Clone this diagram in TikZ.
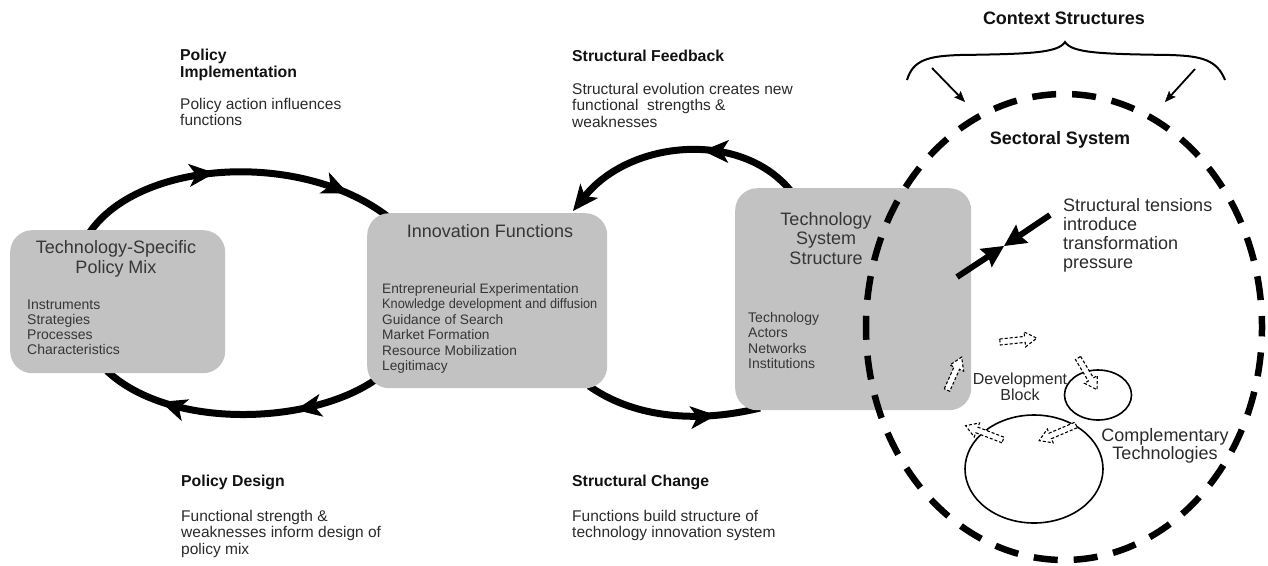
\documentclass[tikz,border=0pt]{standalone}
\usepackage{fontspec}
\setmainfont{Liberation Sans}
\usepackage{graphicx}
\usetikzlibrary{arrows.meta,decorations.markings}

\definecolor{boxgray}{HTML}{C2C2C2}
\definecolor{boxtext}{HTML}{363636}
\definecolor{labeltext}{HTML}{2A2A2A}
\definecolor{headtext}{HTML}{111111}

\newcommand{\fsz}[2]{\fontsize{#1}{#2}\selectfont}

% dashed hollow block arrow: tail x, tail y, direction (deg), length
\newcommand{\hollowarrow}[4]{%
  \begin{scope}[shift={(#1,#2)},rotate=#3]
    \draw[hollowblock] (0,-3) -- (#4-12,-3) -- (#4-12,-7.5) -- (#4,0)
      -- (#4-12,7.5) -- (#4-12,3) -- (0,3) -- cycle;
  \end{scope}}

\tikzset{
  bighead/.tip={Stealth[length=26pt,width=23pt,inset=7pt,line width=1pt]},
  pushhead/.tip={Stealth[length=22pt,width=22pt,inset=3pt,line width=1pt]},
  thinhead/.tip={Stealth[length=11pt,width=9pt,inset=2pt,line width=0.5pt]},
  panel/.style={fill=boxgray, rounded corners=22pt, inner sep=0pt, anchor=north west},
  txt/.style={inner sep=0pt, anchor=base west, text=labeltext},
  ctxt/.style={inner sep=0pt, anchor=base, text=labeltext},
  btxt/.style={inner sep=0pt, anchor=base west, text=boxtext},
  bctxt/.style={inner sep=0pt, anchor=base, text=boxtext},
  flow/.style={line width=7pt, postaction=decorate},
  twoheads/.style 2 args={decoration={markings,
      mark=at position #1 with {\arrow{bighead}},
      mark=at position #2 with {\arrow{bighead}}}},
  onehead/.style={decoration={markings,
      mark=at position #1 with {\arrow{bighead}}}},
  sector/.style={line width=6.5pt, dash pattern=on 24pt off 16pt, dash phase=13pt},
  ring/.style={line width=1.6pt},
  hollowblock/.style={line width=1.1pt, dash pattern=on 3pt off 2pt, fill=white},
  push/.style={line width=6pt, -{pushhead}},
  ctxarrow/.style={line width=1.8pt, -{thinhead}},
}

\begin{document}
\begin{tikzpicture}[x=1pt,y=-1pt]
\useasboundingbox (0,0) rectangle (1268,565);

% ---------- anchor points of the cycle arcs ----------
\coordinate (pmTop)    at (90,232);
\coordinate (pmBot)    at (107,371);
\coordinate (ifTopL)   at (387,216);
\coordinate (ifBotL)   at (375,380);
\coordinate (ifTopR)   at (573,211);
\coordinate (ifBotR)   at (589,386);
\coordinate (tsTop)    at (790,190);
\coordinate (tsBot)    at (760,408);

% ---------- policy loop ----------
\draw[flow, twoheads={0.44}{0.86}]
  (pmTop) .. controls (140,160) and (300,150) .. (ifTopL);
\draw[flow, twoheads={0.3}{0.78}]
  (ifBotL) .. controls (310,425) and (170,430) .. (pmBot);

% ---------- structure loop ----------
\draw[flow, onehead={0.4}, -{bighead}]
  (tsTop) .. controls (740,130) and (630,140) .. (ifTopR);
\draw[flow, onehead={0.75}]
  (ifBotR) .. controls (630,415) and (690,425) .. (tsBot);

% ---------- boxes ----------
\node[panel, minimum width=215pt, minimum height=143pt] (policy) at (10,230) {};
\node[panel, minimum width=240pt, minimum height=175pt] (functions) at (367,213) {};
\node[panel, minimum width=236pt, minimum height=222pt] (structure) at (735,188) {};

% box contents
\node[bctxt, font=\fsz{18}{20}] (policyTitle) at (116,253)
  {\begin{tabular}[t]{@{}c@{}}Technology-Specific\\Policy Mix\end{tabular}};
\node[btxt, font=\fsz{14}{15}] (policyItems) at (27,309)
  {\begin{tabular}[t]{@{}l@{}}Instruments\\Strategies\\Processes\\Characteristics\end{tabular}};

\node[bctxt, font=\fsz{18}{20}] (functionsTitle) at (490,237) {Innovation Functions};
\node[btxt, font=\fsz{13.7}{15.5}] (functionsItems) at (382,293)
  {\begin{tabular}[t]{@{}l@{}}Entrepreneurial Experimentation\\
   \scalebox{0.93}[1]{Knowledge development and diffusion}\\
   Guidance of Search\\Market Formation\\Resource Mobilization\\Legitimacy\end{tabular}};

\node[bctxt, font=\fsz{18}{19.5}] (structureTitle) at (826,225)
  {\begin{tabular}[t]{@{}c@{}}Technology\\System\\Structure\end{tabular}};
\node[btxt, font=\fsz{14}{15.6}] (structureItems) at (748,322)
  {\begin{tabular}[t]{@{}l@{}}Technology\\Actors\\Networks\\Institutions\end{tabular}};

% ---------- cycle labels ----------
\node[txt, text=headtext, font=\bfseries\fsz{15.8}{17}] (implHead) at (180,60)
  {\begin{tabular}[t]{@{}l@{}}Policy\\Implementation\end{tabular}};
\node[txt, font=\fsz{15.5}{16.7}] (implBody) at (180,109)
  {\begin{tabular}[t]{@{}l@{}}Policy action influences\\functions\end{tabular}};

\node[txt, text=headtext, font=\bfseries\fsz{15.8}{17}] (fbHead) at (572,61) {Structural Feedback};
\node[txt, font=\fsz{15.5}{16.7}] (fbBody) at (572,94)
  {\begin{tabular}[t]{@{}l@{}}Structural evolution creates new\\functional\ \ strengths \&\\weaknesses\end{tabular}};

\node[txt, text=headtext, font=\bfseries\fsz{15.8}{17}] (designHead) at (181,486) {Policy Design};
\node[txt, font=\fsz{15.5}{16.7}] (designBody) at (181,521)
  {\begin{tabular}[t]{@{}l@{}}Functional strength \&\\weaknesses inform design of\\policy mix\end{tabular}};

\node[txt, text=headtext, font=\bfseries\fsz{15.8}{17}] (changeHead) at (572,486) {Structural Change};
\node[txt, font=\fsz{15.5}{16.7}] (changeBody) at (572,521)
  {\begin{tabular}[t]{@{}l@{}}Functions build structure of\\technology innovation system\end{tabular}};

% ---------- sectoral system ----------
\draw[sector] (1064,327) ellipse [x radius=198pt, y radius=233pt];

\node[ctxt, text=headtext, font=\bfseries\fsz{18}{20}] (context) at (1064,24) {Context Structures};
\node[ctxt, text=headtext, font=\bfseries\fsz{18}{20}] (sectoral) at (1060,144) {Sectoral System};

% brace over the sectoral system
\draw[line width=2pt] (907,80) .. controls (913,60) and (928,56) .. (960,55)
  .. controls (1030,54) and (1058,53) .. (1065,42)
  .. controls (1072,53) and (1100,54) .. (1170,55)
  .. controls (1202,56) and (1217,60) .. (1225,80);
\coordinate (ctxL) at (932,68);
\coordinate (ctxLend) at (965,102);
\coordinate (ctxR) at (1195,69);
\coordinate (ctxRend) at (1165,102);
\draw[ctxarrow] (ctxL) -- (ctxLend);
\draw[ctxarrow] (ctxR) -- (ctxRend);

% structural tensions
\coordinate (tensIn)  at (957,277);
\coordinate (tensOut) at (1050,215);
\coordinate (tensMeet) at (1004,246);
\draw[push] (tensIn) -- (tensMeet);
\draw[push] (tensOut) -- (tensMeet);
\node[txt, font=\fsz{18}{19}] (tension) at (1063,211)
  {\begin{tabular}[t]{@{}l@{}}Structural tensions\\introduce\\transformation\\pressure\end{tabular}};

% development block and complementary technologies
\draw[ring] (1098,395) ellipse [x radius=33.5pt, y radius=25pt];
\draw[ring] (1034,469) ellipse [x radius=69pt, y radius=54pt];

\hollowarrow{1000}{342}{6}{37}
\hollowarrow{947}{390}{66}{36}
\hollowarrow{1078}{358}{-59}{37}
\hollowarrow{1003}{440}{159}{40}
\hollowarrow{1076}{425}{-157}{40}

\node[ctxt, font=\fsz{16}{16.7}] (devblock) at (1020,384)
  {\begin{tabular}[t]{@{}c@{}}Development\\Block\end{tabular}};
\node[ctxt, font=\fsz{18}{18.5}] (complementary) at (1165,441)
  {\begin{tabular}[t]{@{}c@{}}Complementary\\Technologies\end{tabular}};
\end{tikzpicture}
\end{document}
